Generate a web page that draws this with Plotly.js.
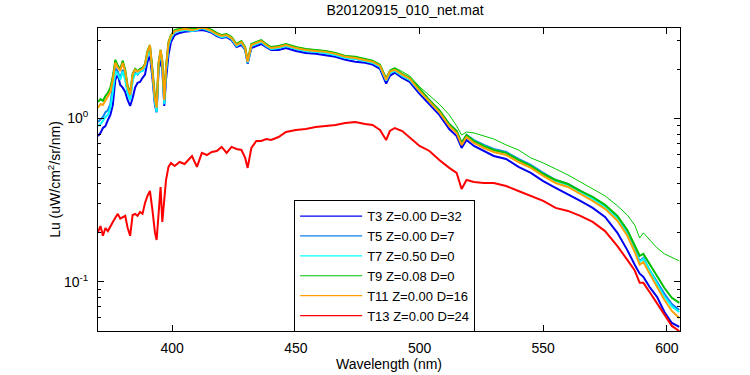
<!DOCTYPE html>
<html>
<head>
<meta charset="utf-8">
<script src="https://cdn.plot.ly/plotly-3.0.1.min.js"></script>
<style>html,body{margin:0;padding:0;background:#fff;}#chart{width:750px;height:375px;}</style>
</head>
<body>
<div id="chart"></div>
<script>
var wl = [370,371,372,373,374,375,376,377,378,379,
380,381,382,383,384,385,386,387,388,389,
390,391,392,393,393.7,394.5,395.3,396,396.8,397.5,
398.5,399.5,401,403,405,408,410,412,414,416,
418,420,422,424,426,428,429.5,430.5,432,434,
436,438,440,443,446,450,454,458,462,466,
470,474,478,481,484,485.5,486.5,488,490,493,
496,500,504,508,512,515,517,519,522,526,
530,535,540,545,550,555,560,565,570,575,
580,584,587,589,590.5,593,596,599,602,605];

var names = ["T3 Z=0.00 D=32","T5 Z=0.00 D=7","T7 Z=0.50 D=0","T9 Z=0.08 D=0","T11 Z=0.00 D=16","T13 Z=0.00 D=24"];

var T3 = [0.779,0.813,0.872,0.897,0.977,1.05,1.21,1.72,1.85,1.60,
1.54,1.45,1.29,1.19,1.33,1.54,1.65,1.67,1.77,1.85,
2.22,2.41,1.77,1.21,1.09,1.98,2.28,1.98,1.19,1.72,
2.44,2.93,3.23,3.33,3.38,3.42,3.47,3.47,3.42,3.33,
3.19,3.10,3.14,3.01,2.73,2.81,2.62,2.16,2.69,2.77,
2.85,2.73,2.62,2.62,2.69,2.58,2.51,2.48,2.44,2.38,
2.28,2.22,2.19,2.13,2.01,1.77,1.63,1.82,1.90,1.77,
1.67,1.41,1.21,1.05,0.860,0.779,0.658,0.736,0.677,0.631,
0.588,0.564,0.504,0.463,0.413,0.375,0.344,0.312,0.283,0.249,
0.199,0.156,0.127,0.112,0.107,0.0928,0.0807,0.0652,0.0559,0.0528];

var T5 = [0.950,0.990,1.02,1.09,1.12,1.22,1.54,2.04,1.93,1.77,
1.98,1.77,1.45,1.33,1.72,1.90,1.85,1.93,1.95,2.07,
2.44,2.69,1.93,1.26,1.12,2.10,2.55,2.16,1.26,1.98,
2.81,3.14,3.38,3.42,3.47,3.47,3.52,3.57,3.52,3.38,
3.23,3.14,3.19,3.06,2.77,2.89,2.66,2.19,2.77,2.85,
2.93,2.77,2.66,2.69,2.77,2.66,2.58,2.55,2.51,2.44,
2.38,2.31,2.25,2.19,2.07,1.85,1.70,1.90,1.95,1.85,
1.75,1.49,1.28,1.11,0.922,0.836,0.706,0.790,0.736,0.687,
0.649,0.622,0.564,0.518,0.463,0.419,0.396,0.359,0.326,0.291,
0.246,0.199,0.159,0.134,0.140,0.118,0.0997,0.0842,0.0730,0.0671];

var T7 = [0.897,0.922,0.963,1.02,1.05,1.16,1.45,1.93,1.87,1.72,
1.93,1.72,1.41,1.29,1.72,1.87,1.87,1.93,1.95,2.07,
2.44,2.69,1.93,1.26,1.09,2.10,2.55,2.16,1.22,1.93,
2.77,3.10,3.38,3.42,3.47,3.42,3.47,3.57,3.47,3.38,
3.23,3.14,3.19,3.06,2.77,2.89,2.66,2.19,2.77,2.85,
2.93,2.77,2.66,2.69,2.77,2.66,2.58,2.55,2.51,2.44,
2.34,2.31,2.25,2.19,2.07,1.85,1.70,1.90,1.95,1.82,
1.72,1.47,1.26,1.09,0.910,0.824,0.696,0.779,0.726,0.677,
0.640,0.614,0.556,0.511,0.456,0.413,0.391,0.354,0.321,0.287,
0.243,0.196,0.156,0.132,0.138,0.117,0.0970,0.0807,0.0705,0.0652];

var T9 = [1.26,1.31,1.28,1.37,1.43,1.54,1.80,2.28,2.10,2.01,
2.25,1.98,1.58,1.43,1.87,2.01,1.95,2.01,2.04,2.16,
2.58,2.81,2.01,1.37,1.19,2.19,2.62,2.25,1.33,2.07,
2.93,3.23,3.47,3.52,3.57,3.52,3.57,3.62,3.57,3.47,
3.33,3.23,3.28,3.14,2.85,2.97,2.73,2.25,2.85,2.93,
3.01,2.85,2.73,2.77,2.85,2.73,2.66,2.62,2.58,2.51,
2.41,2.38,2.31,2.25,2.13,1.90,1.75,1.95,2.01,1.87,
1.77,1.52,1.29,1.12,0.922,0.836,0.706,0.790,0.726,0.677,
0.640,0.614,0.556,0.511,0.456,0.419,0.396,0.359,0.330,0.295,
0.253,0.207,0.168,0.144,0.148,0.129,0.109,0.0915,0.0796,0.0741];

var T11 = [1.16,1.22,1.21,1.29,1.37,1.45,1.72,2.19,2.04,1.95,
2.19,1.93,1.54,1.39,1.85,1.98,1.93,1.98,2.01,2.13,
2.55,2.81,1.98,1.33,1.16,2.16,2.62,2.22,1.29,2.04,
2.89,3.19,3.42,3.47,3.52,3.47,3.52,3.62,3.52,3.42,
3.28,3.19,3.23,3.10,2.81,2.93,2.69,2.22,2.81,2.89,
2.97,2.81,2.69,2.73,2.81,2.69,2.62,2.58,2.55,2.48,
2.38,2.34,2.28,2.22,2.10,1.87,1.72,1.93,1.98,1.85,
1.75,1.47,1.26,1.09,0.897,0.813,0.687,0.768,0.706,0.658,
0.622,0.596,0.540,0.497,0.444,0.402,0.380,0.344,0.312,0.279,
0.236,0.191,0.152,0.127,0.132,0.112,0.0928,0.0773,0.0662,0.0599];

var T13 = [0.201,0.219,0.191,0.213,0.204,0.219,0.232,0.246,0.260,0.243,
0.249,0.253,0.213,0.191,0.256,0.260,0.253,0.267,0.260,0.303,
0.335,0.359,0.275,0.201,0.180,0.263,0.380,0.232,0.330,0.419,
0.504,0.533,0.511,0.540,0.525,0.588,0.504,0.614,0.596,0.622,
0.631,0.668,0.614,0.668,0.649,0.640,0.572,0.497,0.658,0.726,
0.726,0.747,0.736,0.768,0.824,0.848,0.860,0.885,0.897,0.910,
0.935,0.950,0.922,0.910,0.848,0.779,0.736,0.836,0.872,0.836,
0.768,0.677,0.631,0.556,0.497,0.463,0.369,0.419,0.408,0.402,
0.402,0.385,0.359,0.335,0.312,0.283,0.271,0.253,0.232,0.204,
0.165,0.136,0.117,0.0984,0.0984,0.0865,0.0741,0.0625,0.0536,0.0499];

var Textra = [1.26,1.31,1.28,1.37,1.43,1.54,1.80,2.28,2.10,2.01,
2.25,1.98,1.58,1.43,1.87,2.01,1.95,2.01,2.04,2.16,
2.58,2.81,2.01,1.37,1.19,2.19,2.62,2.25,1.33,2.07,
2.93,3.23,3.47,3.52,3.57,3.52,3.57,3.62,3.57,3.47,
3.33,3.23,3.28,3.14,2.85,2.97,2.73,2.25,2.85,2.93,
3.01,2.85,2.73,2.77,2.85,2.73,2.66,2.62,2.58,2.51,
2.41,2.38,2.31,2.25,2.13,1.93,1.77,1.98,2.04,1.93,
1.82,1.56,1.37,1.22,1.05,0.897,0.790,0.824,0.813,0.779,
0.747,0.687,0.640,0.572,0.533,0.490,0.450,0.408,0.369,0.335,
0.291,0.256,0.222,0.185,0.199,0.180,0.161,0.148,0.140,0.134];

var yTickVals = [0.1, 1];
var yTickText = ["10<sup>-1</sup>", "10<sup>0</sup>"];
var yMinorVals = [0.05,0.06,0.07,0.08,0.09,0.2,0.3,0.4,0.5,0.6,0.7,0.8,0.9,2,3];
var xTickVals = [400,450,500,550,600];

var series = [T3, T5, T7, T9, T11, T13];
var colors = ["#0000F0", "#1080F0", "#00FFFF", "#00C000", "#FFA000", "#FF0000"];

var traces = [];
// thin green spectrum (not in legend)
traces.push({x: wl, y: Textra, type: "scatter", mode: "lines", showlegend: false,
  line: {color: "#00C800", width: 1}, hoverinfo: "skip"});
for (var i = 0; i < series.length; i++) {
  traces.push({x: wl, y: series[i], type: "scatter", mode: "lines", name: names[i],
    showlegend: false, line: {color: colors[i], width: 2}});
}
// legend entries (thin sample lines as in the reference)
for (var j = 0; j < series.length; j++) {
  traces.push({x: [null], y: [null], type: "scatter", mode: "lines", name: names[j],
    showlegend: true, line: {color: colors[j], width: 1.2}});
}

var fontFam = "Liberation Sans, Arial, Helvetica, sans-serif";
var layout = {
  width: 750, height: 375,
  margin: {l: 98, r: 70, t: 28, b: 44, pad: 0},
  paper_bgcolor: "#ffffff", plot_bgcolor: "#ffffff",
  font: {family: fontFam, size: 14, color: "#000"},
  title: {text: "B20120915_010_net.mat", x: 0.54, xanchor: "center", y: 0.985, yanchor: "top",
    font: {family: fontFam, size: 14, color: "#000"}},
  showlegend: true,
  legend: {x: 0.337, xanchor: "left", y: 0.432, yanchor: "top", bgcolor: "#ffffff",
    bordercolor: "#000", borderwidth: 1, font: {family: fontFam, size: 13, color: "#000"},
    itemwidth: 62, tracegroupgap: 0, traceorder: "normal"},
  xaxis: {range: [370, 605.3], tickmode: "array", tickvals: xTickVals,
    ticks: "inside", ticklen: 6, tickcolor: "#000", tickwidth: 1,
    showline: true, linecolor: "#000", linewidth: 1, mirror: "ticks",
    showgrid: false, zeroline: false, tickfont: {size: 14}, ticklabelstandoff: 4,
    title: {text: "Wavelength (nm)", font: {size: 14}, standoff: 4}},
  yaxis: {type: "log", range: [Math.log10(0.0499), Math.log10(3.57)],
    tickmode: "array", tickvals: yTickVals, ticktext: yTickText,
    ticks: "inside", ticklen: 6, tickcolor: "#000", tickwidth: 1,
    showline: true, linecolor: "#000", linewidth: 1, mirror: "ticks",
    showgrid: false, zeroline: false, tickfont: {size: 14}, ticklabelstandoff: 6,
    minor: {tickmode: "array", tickvals: yMinorVals, ticks: "inside", ticklen: 3, tickcolor: "#000", showgrid: false},
    title: {text: "Lu (uW/cm<sup>2</sup>/sr/nm)", font: {size: 14}, standoff: 0}}
};

Plotly.newPlot("chart", traces, layout, {staticPlot: true, displayModeBar: false});
</script>
</body>
</html>
